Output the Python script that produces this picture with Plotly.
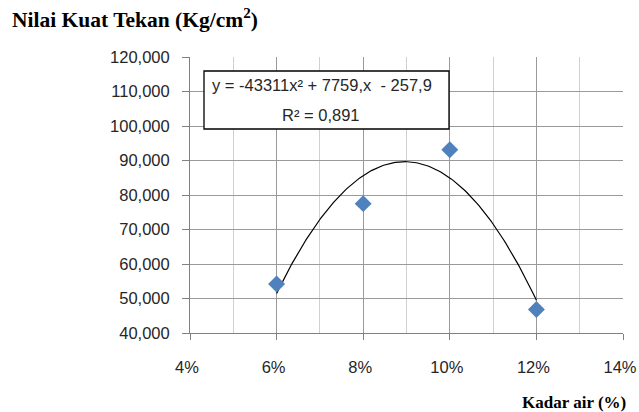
import numpy as np
import plotly.graph_objects as go

kadar_air = [0.06, 0.08, 0.10, 0.12]
kuat_tekan = [54.2, 77.5, 93.1, 46.8]
y_ticks = [40, 50, 60, 70, 80, 90, 100, 110, 120]
x_ticks = [0.04, 0.06, 0.08, 0.10, 0.12, 0.14]
equation_line = "y = -43311x² + 7759,x  - 257,9"
r2_line = "R² = 0,891"

coef = np.polyfit(kadar_air, kuat_tekan, 2)
xs = np.linspace(min(kadar_air), max(kadar_air), 200)
ys = np.polyval(coef, xs)

fig = go.Figure()
fig.add_trace(go.Scatter(x=xs, y=ys, mode="lines",
                         line=dict(color="black", width=1.2), hoverinfo="skip"))
fig.add_trace(go.Scatter(x=kadar_air, y=kuat_tekan, mode="markers",
                         marker=dict(symbol="diamond", size=13, color="#4F81BD")))

tick_font = dict(family="Liberation Sans, sans-serif", size=16.5, color="#262626")

W, H = 639, 412
L, R, T, B = 190, 16, 57, 79
PW, PH = W - L - R, H - T - B


def px(xp):
    return (xp - L) / PW


def py(yp):
    return 1 - (yp - T) / PH


fig.update_layout(
    width=W, height=H,
    margin=dict(l=L, r=R, t=T, b=B, autoexpand=False),
    plot_bgcolor="white", paper_bgcolor="white",
    showlegend=False,
    separators=", ",
    xaxis=dict(range=[0.04, 0.14], tickvals=x_ticks, tickformat=".0%",
               showgrid=True, gridcolor="#9a9a9a", gridwidth=1,
               minor=dict(dtick=0.01, tick0=0.04, showgrid=True, gridcolor="#d0d0d0", gridwidth=1),
               showline=True, linecolor="#808080", linewidth=1,
               ticks="outside", ticklen=6, tickcolor="#808080",
               tickfont=tick_font, zeroline=False, ticklabelstandoff=13,
               ticklabelshift=-3, ticklabeloverflow="allow"),
    yaxis=dict(range=[40, 120], tickvals=y_ticks, tickformat=".3f",
               showgrid=True, gridcolor="#9a9a9a", gridwidth=1,
               showline=True, linecolor="#808080", linewidth=1,
               ticks="outside", ticklen=7, tickcolor="#808080",
               tickfont=tick_font, zeroline=False, ticklabelstandoff=9),
    shapes=[
        dict(type="rect", xref="paper", yref="paper",
             x0=px(204), x1=px(449), y0=py(129), y1=py(71),
             line=dict(color="black", width=1.3), fillcolor="white", layer="above"),
    ],
    annotations=[
        dict(text="<b>Nilai Kuat Tekan (Kg/cm<sup>2</sup>)</b>", xref="paper", yref="paper",
             x=px(10), y=py(18), xanchor="left", yanchor="middle", showarrow=False,
             font=dict(family="Liberation Serif, serif", size=21.5, color="black")),
        dict(text="<b>Kadar air (%)</b>", xref="paper", yref="paper",
             x=px(628), y=py(402), xanchor="right", yanchor="middle", showarrow=False,
             font=dict(family="Liberation Serif, serif", size=17, color="black")),
        dict(text=equation_line, xref="paper", yref="paper",
             x=px(321.5), y=py(85), xanchor="center", yanchor="middle",
             showarrow=False,
             font=dict(family="Liberation Sans, sans-serif", size=16.5, color="#262626")),
        dict(text=r2_line, xref="paper", yref="paper",
             x=px(321), y=py(115), xanchor="center", yanchor="middle",
             showarrow=False,
             font=dict(family="Liberation Sans, sans-serif", size=16.5, color="#262626")),
    ],
)

fig.write_html(
    "out.html",
    config={"displayModeBar": False},
    post_script="document.body.style.margin='0';document.body.style.overflow='hidden';",
)
